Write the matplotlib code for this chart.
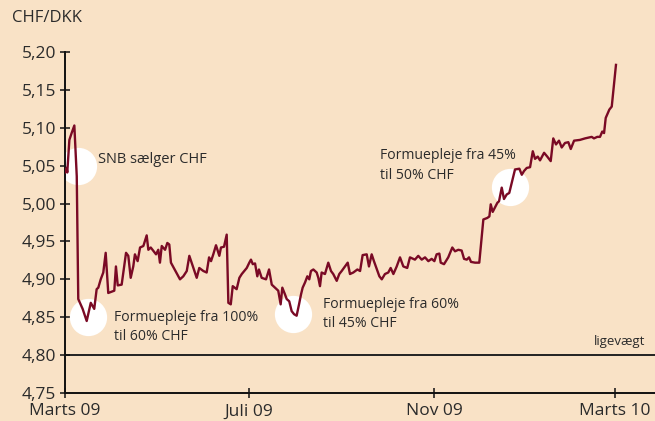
import numpy as np
import pandas as pd
import matplotlib
matplotlib.use("Agg")
import matplotlib.pyplot as plt

# CHF/DKK, days counted from 1 March 2009
start = pd.Timestamp("2009-03-01")
days = [0, 1.1, 1.5, 2.9, 4.4, 6.2, 7.8, 8.8, 11.7, 14.4,
        17.1, 19.4, 21.0, 22.1, 23.7, 25.4, 27.0, 28.7, 32.7, 33.8,
        35.0, 37.6, 40.5, 42.0, 43.6, 45.3, 46.4, 48.2, 49.8, 52.0,
        54.2, 55.3, 56.9, 60.4, 61.9, 63.0, 64.2, 66.4, 67.9, 69.2,
        70.3, 76.3, 78.5, 80.8, 82.5, 87.4, 89.1, 91.8, 94.0, 95.6,
        96.9, 98.4, 100.2, 102.4, 103.5, 105.5, 107.3, 108.4, 110.0, 111.3,
        113.9, 115.7, 117.3, 120.6, 122.3, 123.4, 124.6, 126.1, 127.6, 128.7,
        130.5, 133.4, 135.4, 137.2, 139.3, 141.5, 143.1, 144.2, 146.0, 147.1,
        148.8, 150.4, 152.0, 153.7, 155.3, 156.6, 157.7, 159.3, 160.8, 162.1,
        163.2, 164.8, 167.0, 168.1, 169.2, 170.3, 172.5, 174.7, 176.5, 178.0,
        180.3, 182.0, 183.6, 185.8, 187.6, 189.1, 191.3, 194.0, 195.8, 197.5,
        200.2, 201.7, 203.5, 205.0, 208.6, 210.2, 212.3, 214.5, 216.1, 217.9,
        220.1, 222.3, 224.5, 227.1, 228.9, 232.2, 234.4, 236.7, 238.9, 241.1,
        243.3, 245.1, 246.6, 248.4, 249.3, 251.5, 254.3, 257.0, 258.8, 261.0,
        263.2, 264.8, 266.6, 268.1, 269.4, 272.1, 274.9, 277.6, 280.2, 281.6,
        282.5, 283.8, 286.9, 288.0, 289.8, 291.3, 293.1, 294.8, 296.4, 298.6,
        301.5, 303.1, 304.6, 306.4, 308.6, 310.4, 311.9, 313.7, 315.2, 317.9,
        320.0, 322.3, 324.0, 325.8, 327.8, 329.6, 331.8, 334.0, 335.6, 337.8,
        341.7, 345.1, 347.3, 349.5, 351.0, 353.2, 355.0, 356.5, 357.7, 358.8,
        361.2, 362.8, 365.6]
rate = [5.041, 5.047, 5.041, 5.084, 5.093, 5.103, 5.036, 4.874, 4.861, 4.845,
        4.869, 4.861, 4.887, 4.889, 4.900, 4.909, 4.935, 4.882, 4.885, 4.917,
        4.892, 4.893, 4.935, 4.931, 4.902, 4.917, 4.933, 4.924, 4.942, 4.944,
        4.958, 4.939, 4.942, 4.933, 4.939, 4.922, 4.944, 4.939, 4.948, 4.946,
        4.922, 4.900, 4.904, 4.911, 4.931, 4.902, 4.915, 4.911, 4.909, 4.929,
        4.924, 4.933, 4.945, 4.931, 4.942, 4.943, 4.959, 4.869, 4.867, 4.891,
        4.887, 4.902, 4.907, 4.915, 4.922, 4.926, 4.920, 4.921, 4.904, 4.913,
        4.902, 4.900, 4.913, 4.893, 4.889, 4.885, 4.867, 4.889, 4.880, 4.874,
        4.871, 4.858, 4.854, 4.852, 4.867, 4.880, 4.889, 4.896, 4.904, 4.900,
        4.911, 4.913, 4.909, 4.902, 4.891, 4.909, 4.907, 4.922, 4.911, 4.907,
        4.898, 4.907, 4.911, 4.917, 4.922, 4.907, 4.909, 4.913, 4.911, 4.932,
        4.933, 4.917, 4.933, 4.924, 4.904, 4.900, 4.907, 4.909, 4.915, 4.907,
        4.917, 4.929, 4.917, 4.915, 4.929, 4.926, 4.931, 4.926, 4.929, 4.924,
        4.927, 4.924, 4.933, 4.934, 4.922, 4.920, 4.929, 4.942, 4.937, 4.939,
        4.938, 4.927, 4.926, 4.929, 4.923, 4.922, 4.922, 4.979, 4.981, 4.983,
        4.999, 4.989, 5.001, 5.003, 5.021, 5.006, 5.012, 5.014, 5.027, 5.045,
        5.046, 5.038, 5.043, 5.047, 5.048, 5.069, 5.059, 5.062, 5.057, 5.067,
        5.062, 5.056, 5.086, 5.078, 5.083, 5.074, 5.080, 5.081, 5.072, 5.083,
        5.084, 5.086, 5.087, 5.088, 5.086, 5.088, 5.088, 5.095, 5.093, 5.113,
        5.124, 5.128, 5.183]

# highlighted events (white circles) and their labels
event_days = [8.6, 15.3, 151.3, 295.3]
event_vals = [5.05, 4.85, 4.854, 5.022]
labels = ["SNB sælger CHF", "Formuepleje fra 100%\ntil 60% CHF",
          "Formuepleje fra 60%\ntil 45% CHF", "Formuepleje fra 45%\ntil 50% CHF"]
label_days = [21.9, 32.5, 171.2, 209.0]
label_vals = [5.058, 4.837, 4.854, 5.050]

tick_dates = ["2009-03-01", "2009-07-01", "2009-11-01", "2010-03-01"]
tick_labels = ["Marts 09", "Juli 09", "Nov 09", "Marts 10"]
y_ticks = [4.75, 4.80, 4.85, 4.90, 4.95, 5.00, 5.05, 5.10, 5.15, 5.20]
parity = 4.80

bg = "#F9E2C6"
red = "#7A0A25"
txt = "#2b2b2b"

plt.rcParams["font.family"] = ["Open Sans", "DejaVu Sans"]

dates = start + pd.to_timedelta(days, unit="D")
ev_dates = start + pd.to_timedelta(event_days, unit="D")
lab_dates = start + pd.to_timedelta(label_days, unit="D")

fig = plt.figure(figsize=(6.55, 4.21), dpi=100, facecolor=bg)
ax = fig.add_axes([65 / 655, 28 / 421, 590 / 655, 341 / 421])
ax.set_facecolor(bg)

ax.scatter(ev_dates, event_vals, s=720, color="white", zorder=2, linewidths=0)
ax.plot(dates, rate, color=red, lw=1.7, zorder=3)
ax.axhline(parity, color="#222222", lw=1.4, zorder=1)

for d, v, s in zip(lab_dates, label_vals, labels):
    fs = 10.5 if "\n" not in s else 10.1
    ax.text(d, v, s, fontsize=fs, color=txt, va="center", ha="left",
            linespacing=1.4, zorder=4)
ax.text(start + pd.Timedelta(days=385), 4.818, "ligevægt", fontsize=9.5,
        color=txt, ha="right", va="center")

ax.set_xlim(start, start + pd.Timedelta(days=391.5))
ax.set_ylim(4.75, 5.20)
ax.set_xticks(pd.to_datetime(tick_dates))
ax.set_xticklabels(tick_labels)
ax.set_yticks(y_ticks)
ax.set_yticklabels([f"{v:.2f}".replace(".", ",") for v in y_ticks])
ax.tick_params(axis="both", direction="inout", length=7, width=1.1,
               colors="#111111", labelsize=12.5, labelcolor=txt)
ax.tick_params(axis="x", pad=4)
ax.tick_params(axis="y", pad=3)

for side in ["top", "right"]:
    ax.spines[side].set_visible(False)
for side in ["left", "bottom"]:
    ax.spines[side].set_linewidth(1.4)
    ax.spines[side].set_color("#111111")

fig.text(12 / 655, 1 - 18 / 421, "CHF/DKK", fontsize=12, color=txt,
         ha="left", va="center")

fig.savefig("out.png", dpi=100, facecolor=bg)
